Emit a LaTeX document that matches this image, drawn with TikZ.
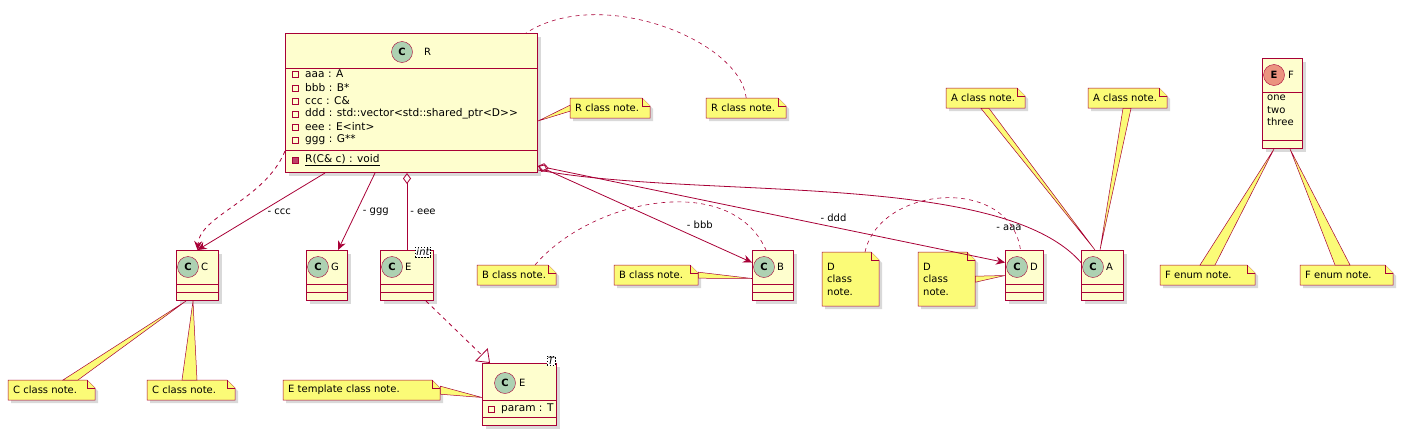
\documentclass[tikz,border=0pt]{standalone}
\usepackage{fontspec}
\setmainfont{DejaVu Sans}
\usetikzlibrary{arrows.meta,calc,shadows}
\definecolor{umlred}{HTML}{A80036}
\definecolor{clsbg}{HTML}{FEFECE}
\definecolor{notebg}{HTML}{FBFB77}
\definecolor{iconc}{HTML}{ADD1B2}
\definecolor{icone}{HTML}{EB937F}

\tikzset{
  shd/.style={drop shadow={opacity=0.3,shadow xshift=3pt,shadow yshift=-3pt}},
  cls/.style={draw=umlred,fill=clsbg,line width=1pt,shd},
  note/.style={draw=umlred,fill=notebg,line width=0.5pt},
  icon/.style={circle,draw=umlred,fill=#1,minimum size=21pt,inner sep=0pt,font=\bfseries\normalsize},
  assoc/.style={draw=umlred,line width=0.8pt},
  lnk/.style={draw=umlred,line width=0.8pt,dash pattern=on 4pt off 4pt},
  lbl/.style={font=\fontsize{10}{12}\selectfont,inner sep=2pt},
  txt/.style={font=\fontsize{10}{12.5}\selectfont,inner sep=0pt,anchor=west},
  tmpl/.style={draw,dash pattern=on 1.5pt off 1.5pt,fill=white,font=\itshape\fontsize{10}{10}\selectfont,inner sep=1pt},
}
% small class: name, x, y, width, title
\newcommand\smallcls[5]{%
  \node[cls,minimum width=#4pt,minimum height=50pt,anchor=north west,inner sep=0pt] (#1) at (#2,#3) {};
  \node[icon=iconc] at (#2+12,#3+17) {C};
  \node[txt] at (#2+25,#3+17) {#5};
  \draw[umlred,line width=1pt] (#2,#3+34) -- +(#4,0) (#2,#3+42) -- +(#4,0);
}
% note: name, x, y, width, height, text
\newcommand\umlnote[6]{%
  \filldraw[note,shd] (#2,#3) -- (#2+#4-8,#3) -- (#2+#4,#3+8) -- (#2+#4,#3+#5) -- (#2,#3+#5) -- cycle;
  \draw[note] (#2+#4-8,#3) -- (#2+#4-8,#3+8) -- (#2+#4,#3+8);
  \node[minimum width=#4pt,minimum height=#5pt,anchor=north west,inner sep=0pt] (#1) at (#2,#3) {};
  \node[txt,align=left] at (#2+5,#3+#5/2) {#6};
}
% attribute marker
\newcommand\attr[3]{%
  \draw[umlred,line width=0.6pt] (#1-3,#2-3) rectangle (#1+3,#2+3);
  \node[txt,font=\fontsize{10.6}{12.5}\selectfont] at (#1+10,#2) {#3};
}

\begin{document}
\begin{tikzpicture}[x=1pt,y=-1pt]
  \useasboundingbox (0,0) rectangle (1415,434);

  % class R
  \node[cls,minimum width=252pt,minimum height=139pt,anchor=north west,inner sep=0pt] (R) at (285,33) {};
  \node[icon=iconc] at (402,52) {C};
  \node[txt] at (424,52) {R};
  \draw[umlred,line width=1pt] (285,68) -- +(252,0) (285,150) -- +(252,0);
  \attr{295}{74}{aaa : A}
  \attr{295}{88}{bbb : B*}
  \attr{295}{101}{ccc : C\&}
  \attr{295}{114}{ddd : std::vector<std::shared\_ptr<D>{}>}
  \attr{295}{127}{eee : E<int>}
  \attr{295}{140}{ggg : G**}
  \filldraw[umlred,fill=umlred!75] (292,157) rectangle (298,163);
  \node[txt,font=\fontsize{10.6}{12.5}\selectfont] at (305,160) {\underline{R(C\& c) : void}};

  % small classes
  \smallcls{C}{176}{250}{42}{C}
  \smallcls{G}{306}{250}{41}{G}
  \smallcls{Eint}{380}{250}{53}{E}
  \node[tmpl] at ([xshift=-11pt,yshift=-2pt]Eint.north east) {int};
  \smallcls{B}{752}{250}{41}{B}
  \smallcls{D}{1005}{250}{38}{D}
  \smallcls{A}{1081}{250}{42}{A}

  % template class E<T>
  \node[cls,minimum width=74pt,minimum height=62pt,anchor=north west,inner sep=0pt] (ET) at (482,363) {};
  \node[icon=iconc] at (505,383) {C};
  \node[txt] at (519,383) {E};
  \node[tmpl] at ([xshift=-6pt,yshift=2pt]ET.north east) {T};
  \draw[umlred,line width=1pt] (482,400) -- +(74,0) (482,417) -- +(74,0);
  \attr{491}{409}{param : T}

  % enum F
  \node[cls,minimum width=40pt,minimum height=90pt,anchor=north west,inner sep=0pt] (F) at (1262,58) {};
  \node[icon=icone] at (1274,75) {E};
  \node[txt] at (1288,75) {F};
  \draw[umlred,line width=1pt] (1262,92) -- +(40,0) (1262,140) -- +(40,0);
  \node[txt,align=left,anchor=north west] at (1267,95) {one\\two\\three};

  % notes
  \umlnote{nR1}{570}{98}{80}{20}{R class note.}
  \umlnote{nR2}{706}{98}{80}{20}{R class note.}
  \umlnote{nA1}{946}{88}{79}{20}{A class note.}
  \umlnote{nA2}{1088}{88}{79}{20}{A class note.}
  \umlnote{nB1}{477}{265}{79}{20}{B class note.}
  \umlnote{nB2}{614}{265}{84}{20}{B class note.}
  \umlnote{nD1}{822}{252}{57}{54}{D\\class\\note.}
  \umlnote{nD2}{918}{252}{57}{54}{D\\class\\note.}
  \umlnote{nF1}{1160}{265}{95}{20}{F enum note.}
  \umlnote{nF2}{1300}{265}{93}{20}{F enum note.}
  \umlnote{nC1}{8}{380}{87}{20}{C class note.}
  \umlnote{nC2}{147}{380}{88}{20}{C class note.}
  \umlnote{nE}{283}{380}{157}{20}{E template class note.}

  % relations
  \draw[assoc,-{Stealth[length=9pt,width=8pt]}] ([xshift=40pt]R.south west) -- node[lbl,right=4pt] {- ccc} (C.north);
  \draw[lnk,-{Stealth[length=9pt,width=8pt]}] ([yshift=22pt]R.south west) .. controls (265,200) and (200,215) .. (C.north);
  \draw[assoc,-{Stealth[length=9pt,width=8pt]}] ([xshift=90pt]R.south west) -- node[lbl,right=4pt] {- ggg} ([xshift=32pt]G.north west);
  \draw[assoc,{Diamond[open,length=11pt,width=8pt]}-] (Eint.north |- R.south) -- node[lbl,right=1pt] {- eee} (Eint.north);
  \draw[assoc,{Diamond[open,length=11pt,width=8pt]}-{Stealth[length=9pt,width=8pt]}] ([yshift=7pt]R.south east) -- node[lbl,pos=0.68,above right=1pt] {- bbb} ([yshift=13pt]B.west);
  \draw[assoc,{Diamond[open,length=11pt,width=8pt]}-{Stealth[length=9pt,width=8pt]}] ([yshift=7pt]R.south east) -- node[lbl,pos=0.6,above right=0pt] {- ddd} ([yshift=13pt]D.west);
  \draw[assoc] ([yshift=3pt]R.south east) .. controls (700,200) and (1000,170) .. node[lbl,pos=0.8,below=2pt] {- aaa} ([yshift=13pt]A.west);
  \draw[lnk,-{Triangle[open,length=12pt,width=18pt]}] ([xshift=-8pt]Eint.south east) -- ([xshift=8pt]ET.north west);

  % note links
  \filldraw[note] ([yshift=3pt]nR1.west) -- ([yshift=-3pt]nR1.west) -- ([yshift=52pt]R.south east) -- cycle;
  \draw[lnk,line width=0.6pt] (nR2.north) .. controls (740,40) and (600,-15) .. ([xshift=-12pt]R.north east);
  \filldraw[note] ([xshift=35pt]nA1.south west) -- ([xshift=43pt]nA1.south west) -- ([xshift=14pt]A.north west) -- cycle;
  \filldraw[note] ([xshift=35pt]nA2.south west) -- ([xshift=43pt]nA2.south west) -- ([xshift=19pt]A.north west) -- cycle;
  \draw[lnk,line width=0.6pt] ([xshift=58pt]nB1.north west) .. controls (590,200) and (730,170) .. ([xshift=-7pt]B.north);
  \filldraw[note] ([yshift=-3pt]nB2.east) -- ([yshift=3pt]nB2.east) -- ([yshift=-3pt]B.west) -- cycle;
  \draw[lnk,line width=0.6pt] ([xshift=43pt]nD1.north west) .. controls (880,185) and (1010,175) .. ([xshift=-4pt]D.north);
  \filldraw[note] ([yshift=-3pt]nD2.east) -- ([yshift=3pt]nD2.east) -- (D.west) -- cycle;
  \filldraw[note] ([xshift=40pt]nF1.north west) -- ([xshift=55pt]nF1.north west) -- ([xshift=12pt]F.south west) -- cycle;
  \filldraw[note] ([xshift=35pt]nF2.north west) -- ([xshift=50pt]nF2.north west) -- ([xshift=28pt]F.south west) -- cycle;
  \filldraw[note] ([xshift=55pt]nC1.north west) -- ([xshift=70pt]nC1.north west) -- ([xshift=10pt]C.south west) -- cycle;
  \filldraw[note] ([xshift=35pt]nC2.north west) -- ([xshift=50pt]nC2.north west) -- ([xshift=17pt]C.south west) -- cycle;
  \filldraw[note] ([yshift=-4pt]nE.east) -- ([yshift=4pt]nE.east) -- ([yshift=-3pt]ET.west) -- cycle;
\end{tikzpicture}
\end{document}
